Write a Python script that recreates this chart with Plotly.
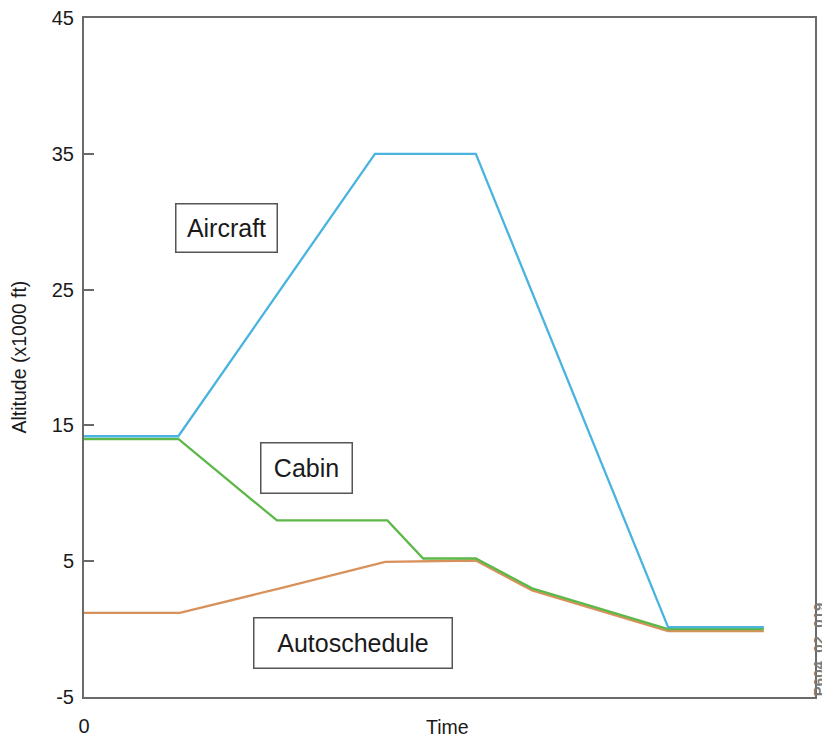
import plotly.graph_objects as go

# ---- data ----
time_aircraft = [0, 12.9, 39.8, 53.6, 79.9, 93.0]
alt_aircraft = [14.2, 14.2, 35.0, 35.0, 0.15, 0.15]

time_cabin = [0, 12.9, 26.4, 41.5, 46.4, 53.6, 61.3, 79.9, 93.0]
alt_cabin = [14.0, 14.0, 8.0, 8.0, 5.2, 5.2, 3.0, 0.0, 0.0]

time_auto = [0, 13.1, 26.8, 41.2, 53.6, 61.3, 79.9, 93.0]
alt_auto = [1.2, 1.2, 3.0, 4.95, 5.05, 2.85, -0.15, -0.15]

y_ticks = [-5, 5, 15, 25, 35, 45]
y_tick_labels = ["-5", "5", "15", "25", "35", "45"]

series_labels = ["Aircraft", "Cabin", "Autoschedule"]

FONT = "Liberation Sans, Arial, sans-serif"
AXIS = "#6a6a6a"
TXT = "#1a1a1a"

fig = go.Figure()
fig.add_trace(go.Scatter(x=time_auto, y=alt_auto, mode="lines",
                         line=dict(color="#d8915b", width=2.3), showlegend=False))
fig.add_trace(go.Scatter(x=time_cabin, y=alt_cabin, mode="lines",
                         line=dict(color="#5db84a", width=2.3), showlegend=False))
fig.add_trace(go.Scatter(x=time_aircraft, y=alt_aircraft, mode="lines",
                         line=dict(color="#4ab3df", width=2.3), showlegend=False))

# text boxes
box_specs = [
    (series_labels[0], 19.56, 29.57, 98, 45),
    (series_labels[1], 30.37, 11.9, 88, 47),
    (series_labels[2], 36.73, -0.99, 195, 47),
]
for txt, bx, by, w, h in box_specs:
    fig.add_annotation(x=bx, y=by, xref="x", yref="y", text=txt, showarrow=False,
                       font=dict(family=FONT, size=25, color=TXT),
                       bordercolor="#555555", borderwidth=1.5, borderpad=1,
                       bgcolor="white", width=w, height=h, align="center",
                       valign="middle")

fig.add_annotation(x=0.497, y=0, xref="paper", yref="paper", text="Time",
                   showarrow=False, yanchor="middle", yshift=-30,
                   font=dict(family=FONT, size=19.5, color=TXT))
fig.add_annotation(x=0, y=0.5, xref="paper", yref="paper", text="Altitude (x1000 ft)",
                   showarrow=False, textangle=-90, xanchor="center", yanchor="middle",
                   xshift=-66, font=dict(family=FONT, size=19.5, color=TXT))
fig.add_annotation(x=1.0, y=0.069, xref="paper", yref="paper", text="<b>P604_02_019</b>",
                   showarrow=False, textangle=-90, xanchor="center", yanchor="middle",
                   xshift=3, font=dict(family=FONT, size=15, color="#7a7a7a"))

fig.update_xaxes(range=[0, 100], showgrid=False, zeroline=False,
                 showline=True, mirror=True, linecolor=AXIS, linewidth=2,
                 tickvals=[0], ticktext=["0"], ticks="", ticklabelstandoff=10,
                 ticklabeloverflow="allow",
                 tickfont=dict(family=FONT, size=20, color=TXT))
fig.update_yaxes(range=[-5, 45], showgrid=False, zeroline=False,
                 showline=True, mirror=True, linecolor=AXIS, linewidth=2,
                 tickvals=y_ticks, ticktext=y_tick_labels,
                 ticks="inside", ticklen=10, tickwidth=1.5,
                 tickcolor=AXIS, ticklabelstandoff=4, ticklabeloverflow="allow",
                 tickfont=dict(family=FONT, size=20, color=TXT))

# page body adds an offset; shrink figure to keep plot area where the reference has it
fig.update_layout(width=823, height=730, plot_bgcolor="white", paper_bgcolor="white",
                  margin=dict(l=76, r=16, t=10, b=41, autoexpand=False))

fig.write_html("out.html")
